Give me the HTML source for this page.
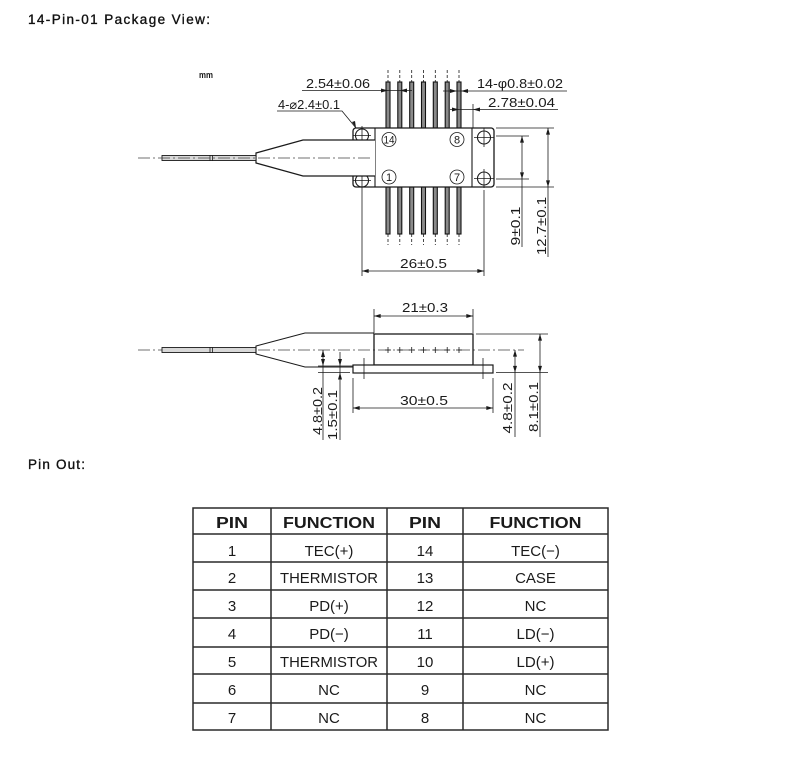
<!DOCTYPE html>
<html><head><meta charset="utf-8"><style>
html,body{margin:0;padding:0;background:#fff;}
svg{display:block;}
text{font-family:"Liberation Sans","DejaVu Sans",sans-serif;fill:#1a1a1a;}
.d{font-size:13px;}
.ln{stroke:#1a1a1a;stroke-width:1.1;fill:none;}
.th{stroke:#1a1a1a;stroke-width:0.8;fill:none;}
.cl{stroke:#444;stroke-width:0.7;stroke-dasharray:12 3 2 3;fill:none;}
.ar{fill:#1a1a1a;stroke:none;}
.tb{stroke:#2a2a2a;stroke-width:1.5;}
.h{font-size:16px;font-weight:bold;}
.c{font-size:15px;}
.hd{font-size:13.5px;fill:#111;stroke:#111;stroke-width:0.35;}
</style></head><body>
<svg width="790" height="766" viewBox="0 0 790 766" xmlns="http://www.w3.org/2000/svg">
<defs>
<marker id="a" viewBox="0 0 10 6" refX="10" refY="3" markerWidth="7" markerHeight="4" markerUnits="userSpaceOnUse" orient="auto-start-reverse"><path d="M0,0 L10,3 L0,6z" fill="#1a1a1a"/></marker>
</defs>

<text class="hd" x="28" y="24" textLength="182" lengthAdjust="spacing">14-Pin-01 Package View:</text>
<text x="199" y="78" font-size="9" font-weight="bold" textLength="14" lengthAdjust="spacingAndGlyphs">mm</text>

<!-- ===== TOP VIEW ===== -->
<g class="th" stroke-dasharray="3 2">
<line x1="388" y1="70" x2="388" y2="82"/><line x1="399.8" y1="70" x2="399.8" y2="82"/><line x1="411.7" y1="70" x2="411.7" y2="82"/><line x1="423.5" y1="70" x2="423.5" y2="82"/><line x1="435.3" y1="70" x2="435.3" y2="82"/><line x1="447.2" y1="70" x2="447.2" y2="82"/><line x1="459" y1="70" x2="459" y2="82"/>
<line x1="388" y1="234" x2="388" y2="245"/><line x1="399.8" y1="234" x2="399.8" y2="245"/><line x1="411.7" y1="234" x2="411.7" y2="245"/><line x1="423.5" y1="234" x2="423.5" y2="245"/><line x1="435.3" y1="234" x2="435.3" y2="245"/><line x1="447.2" y1="234" x2="447.2" y2="245"/><line x1="459" y1="234" x2="459" y2="245"/>
</g>
<g fill="#8a8a8a" stroke="#111" stroke-width="1.1">
<rect x="386" y="82" width="4" height="46"/><rect x="397.8" y="82" width="4" height="46"/><rect x="409.7" y="82" width="4" height="46"/><rect x="421.5" y="82" width="4" height="46"/><rect x="433.3" y="82" width="4" height="46"/><rect x="445.2" y="82" width="4" height="46"/><rect x="457" y="82" width="4" height="46"/>
<rect x="386" y="187" width="4" height="47"/><rect x="397.8" y="187" width="4" height="47"/><rect x="409.7" y="187" width="4" height="47"/><rect x="421.5" y="187" width="4" height="47"/><rect x="433.3" y="187" width="4" height="47"/><rect x="445.2" y="187" width="4" height="47"/><rect x="457" y="187" width="4" height="47"/>
</g>
<rect x="353" y="128" width="141" height="59" rx="3" fill="#fff" stroke="#1a1a1a" stroke-width="1.3"/>
<line class="ln" x1="375" y1="128" x2="375" y2="187"/>
<line class="ln" x1="472" y1="128" x2="472" y2="187"/>
<g class="ln">
<circle cx="362" cy="135.5" r="6.5"/><circle cx="362" cy="180.5" r="6.5"/>
<circle cx="484" cy="137.5" r="6.5"/><circle cx="484" cy="178.5" r="6.5"/>
</g>
<g class="th">
<line x1="362" y1="126" x2="362" y2="145"/><line x1="353" y1="135.5" x2="371" y2="135.5"/>
<line x1="362" y1="171" x2="362" y2="190"/><line x1="353" y1="180.5" x2="371" y2="180.5"/>
<line x1="484" y1="128" x2="484" y2="147"/><line x1="474" y1="137.5" x2="494" y2="137.5"/>
<line x1="484" y1="169" x2="484" y2="188"/><line x1="474" y1="178.5" x2="494" y2="178.5"/>
</g>
<path d="M375,140 L303,140 L256,153 L256,163 L303,176 L375,176" fill="#fff" stroke="#1a1a1a" stroke-width="1.2"/>
<rect x="162" y="155.5" width="94" height="5" fill="#d8d8d8" stroke="#1a1a1a" stroke-width="0.9"/>
<line class="th" x1="210" y1="155" x2="210" y2="161"/><line class="th" x1="212.5" y1="155" x2="212.5" y2="161"/>
<line class="cl" x1="138" y1="158" x2="373" y2="158"/>
<g class="th" stroke-width="0.9">
<circle cx="389" cy="139.5" r="7"/><circle cx="457" cy="139.5" r="7"/>
<circle cx="389" cy="177" r="7"/><circle cx="457" cy="177" r="7"/>
</g>
<g font-size="11" text-anchor="middle">
<text x="389" y="143.5" textLength="11" lengthAdjust="spacingAndGlyphs">14</text>
<text x="457" y="143.5">8</text>
<text x="389" y="181">1</text>
<text x="457" y="181">7</text>
</g>

<text class="d" x="306" y="88" textLength="64" lengthAdjust="spacingAndGlyphs">2.54±0.06</text>
<line class="th" x1="302" y1="90.5" x2="412" y2="90.5"/>
<path class="ar" d="M388,90.5 L381,88.5 L381,92.5z M400,90.5 L407,88.5 L407,92.5z"/>

<text class="d" x="278" y="109" textLength="62" lengthAdjust="spacingAndGlyphs">4-⌀2.4±0.1</text>
<polyline class="th" points="277,111 342,111 356,128"/>
<path class="ar" d="M356,128 L352,122 L355,121z"/>

<text class="d" x="477" y="88" textLength="86" lengthAdjust="spacingAndGlyphs">14-φ0.8±0.02</text>
<line class="th" x1="443" y1="91" x2="567" y2="91"/>
<path class="ar" d="M457,91 L450,89 L450,93z M461,91 L468,89 L468,93z"/>

<text class="d" x="488" y="107" textLength="67" lengthAdjust="spacingAndGlyphs">2.78±0.04</text>
<line class="th" x1="450" y1="109.5" x2="558" y2="109.5"/>
<line class="th" x1="473" y1="104" x2="473" y2="128"/>
<path class="ar" d="M459,109.5 L452,107.5 L452,111.5z M473,109.5 L480,107.5 L480,111.5z"/>

<g class="th">
<line x1="496" y1="136" x2="529" y2="136"/><line x1="496" y1="179" x2="529" y2="179"/>
<line x1="496" y1="128" x2="554" y2="128"/><line x1="496" y1="187" x2="554" y2="187"/>
<line x1="522" y1="136" x2="522" y2="179" marker-start="url(#a)" marker-end="url(#a)"/>
<line x1="522" y1="179" x2="522" y2="247"/>
<line x1="548" y1="128" x2="548" y2="187" marker-start="url(#a)" marker-end="url(#a)"/>
<line x1="548" y1="187" x2="548" y2="257"/>
</g>
<text class="d" transform="translate(520,226) rotate(-90)" text-anchor="middle" textLength="39" lengthAdjust="spacingAndGlyphs">9±0.1</text>
<text class="d" transform="translate(546,226) rotate(-90)" text-anchor="middle" textLength="58" lengthAdjust="spacingAndGlyphs">12.7±0.1</text>

<g class="th">
<line x1="362" y1="190" x2="362" y2="276"/><line x1="484" y1="190" x2="484" y2="276"/>
<line x1="362" y1="271" x2="484" y2="271" marker-start="url(#a)" marker-end="url(#a)"/>
</g>
<text class="d" x="423.5" y="268" text-anchor="middle" textLength="47" lengthAdjust="spacingAndGlyphs">26±0.5</text>

<!-- ===== SIDE VIEW ===== -->
<line class="cl" x1="138" y1="350" x2="524" y2="350"/>
<rect x="162" y="347.5" width="94" height="5" fill="#d8d8d8" stroke="#1a1a1a" stroke-width="0.9"/>
<line class="th" x1="210" y1="347" x2="210" y2="353"/><line class="th" x1="212.5" y1="347" x2="212.5" y2="353"/>
<path class="ln" d="M374,333 L305,333 L256,346 L256,354 L305,367 L353,367" stroke-width="1.2"/>
<rect x="374" y="334" width="99" height="31" fill="none" stroke="#1a1a1a" stroke-width="1.3"/>
<rect x="353" y="365" width="140" height="8" fill="#fff" stroke="#1a1a1a" stroke-width="1.2"/>
<g class="th" stroke-width="1.1">
<line x1="385" y1="350" x2="391" y2="350"/><line x1="388" y1="347" x2="388" y2="353"/>
<line x1="396.8" y1="350" x2="402.8" y2="350"/><line x1="399.8" y1="347" x2="399.8" y2="353"/>
<line x1="408.7" y1="350" x2="414.7" y2="350"/><line x1="411.7" y1="347" x2="411.7" y2="353"/>
<line x1="420.5" y1="350" x2="426.5" y2="350"/><line x1="423.5" y1="347" x2="423.5" y2="353"/>
<line x1="432.3" y1="350" x2="438.3" y2="350"/><line x1="435.3" y1="347" x2="435.3" y2="353"/>
<line x1="444.2" y1="350" x2="450.2" y2="350"/><line x1="447.2" y1="347" x2="447.2" y2="353"/>
<line x1="456" y1="350" x2="462" y2="350"/><line x1="459" y1="347" x2="459" y2="353"/>
</g>
<g class="th">
<line x1="364" y1="358" x2="364" y2="379"/><line x1="483" y1="358" x2="483" y2="379"/>
<line x1="374" y1="309" x2="374" y2="333"/><line x1="473" y1="309" x2="473" y2="333"/>
<line x1="374" y1="316" x2="473" y2="316" marker-start="url(#a)" marker-end="url(#a)"/>
<line x1="353" y1="378" x2="353" y2="413"/><line x1="493" y1="378" x2="493" y2="413"/>
<line x1="353" y1="408" x2="493" y2="408" marker-start="url(#a)" marker-end="url(#a)"/>
<line x1="476" y1="334" x2="548" y2="334"/>
<line x1="496" y1="372.5" x2="548" y2="372.5"/>
<line x1="515" y1="350" x2="515" y2="372.5" marker-start="url(#a)" marker-end="url(#a)"/>
<line x1="515" y1="372.5" x2="515" y2="437"/>
<line x1="540" y1="334" x2="540" y2="372.5" marker-start="url(#a)" marker-end="url(#a)"/>
<line x1="540" y1="372.5" x2="540" y2="437"/>
<line x1="318" y1="366" x2="353" y2="366"/>
<line x1="318" y1="372.5" x2="350" y2="372.5"/>
<line x1="323" y1="350" x2="323" y2="440"/>
<line x1="340" y1="352" x2="340" y2="440"/>
</g>
<path class="ar" d="M323,350 L321,357 L325,357z M323,366 L321,359 L325,359z M340,366 L338,359 L342,359z M340,372.5 L338,379.5 L342,379.5z"/>

<text class="d" x="425" y="312" text-anchor="middle" textLength="46" lengthAdjust="spacingAndGlyphs">21±0.3</text>
<text class="d" x="424" y="405" text-anchor="middle" textLength="48" lengthAdjust="spacingAndGlyphs">30±0.5</text>
<text class="d" transform="translate(322,411) rotate(-90)" text-anchor="middle" textLength="48" lengthAdjust="spacingAndGlyphs">4.8±0.2</text>
<text class="d" transform="translate(337,415) rotate(-90)" text-anchor="middle" textLength="50" lengthAdjust="spacingAndGlyphs">1.5±0.1</text>
<text class="d" transform="translate(512,408) rotate(-90)" text-anchor="middle" textLength="51" lengthAdjust="spacingAndGlyphs">4.8±0.2</text>
<text class="d" transform="translate(538,407) rotate(-90)" text-anchor="middle" textLength="50" lengthAdjust="spacingAndGlyphs">8.1±0.1</text>

<text class="hd" x="28" y="469" textLength="57" lengthAdjust="spacing">Pin Out:</text>

<!-- ===== TABLE ===== -->
<rect x="193" y="508" width="415" height="222" fill="none" class="tb"/>
<g class="tb">
<line x1="271" y1="508" x2="271" y2="730"/><line x1="387" y1="508" x2="387" y2="730"/><line x1="463" y1="508" x2="463" y2="730"/>
<line x1="193" y1="534" x2="608" y2="534"/><line x1="193" y1="562" x2="608" y2="562"/><line x1="193" y1="590" x2="608" y2="590"/>
<line x1="193" y1="618" x2="608" y2="618"/><line x1="193" y1="647" x2="608" y2="647"/><line x1="193" y1="674" x2="608" y2="674"/>
<line x1="193" y1="703" x2="608" y2="703"/>
</g>
<g text-anchor="middle">
<text class="h" x="232" y="528" textLength="32" lengthAdjust="spacingAndGlyphs">PIN</text>
<text class="h" x="329" y="528" textLength="92" lengthAdjust="spacingAndGlyphs">FUNCTION</text>
<text class="h" x="425" y="528" textLength="32" lengthAdjust="spacingAndGlyphs">PIN</text>
<text class="h" x="535.5" y="528" textLength="92" lengthAdjust="spacingAndGlyphs">FUNCTION</text>

<text class="c" x="232" y="556">1</text><text class="c" x="329" y="556">TEC(+)</text><text class="c" x="425" y="556">14</text><text class="c" x="535.5" y="556">TEC(−)</text>
<text class="c" x="232" y="583">2</text><text class="c" x="329" y="583" textLength="98" lengthAdjust="spacingAndGlyphs">THERMISTOR</text><text class="c" x="425" y="583">13</text><text class="c" x="535.5" y="583">CASE</text>
<text class="c" x="232" y="611">3</text><text class="c" x="329" y="611">PD(+)</text><text class="c" x="425" y="611">12</text><text class="c" x="535.5" y="611">NC</text>
<text class="c" x="232" y="639">4</text><text class="c" x="329" y="639">PD(−)</text><text class="c" x="425" y="639">11</text><text class="c" x="535.5" y="639">LD(−)</text>
<text class="c" x="232" y="667">5</text><text class="c" x="329" y="667" textLength="98" lengthAdjust="spacingAndGlyphs">THERMISTOR</text><text class="c" x="425" y="667">10</text><text class="c" x="535.5" y="667">LD(+)</text>
<text class="c" x="232" y="695">6</text><text class="c" x="329" y="695">NC</text><text class="c" x="425" y="695">9</text><text class="c" x="535.5" y="695">NC</text>
<text class="c" x="232" y="723">7</text><text class="c" x="329" y="723">NC</text><text class="c" x="425" y="723">8</text><text class="c" x="535.5" y="723">NC</text>
</g>
</svg>
</body></html>
